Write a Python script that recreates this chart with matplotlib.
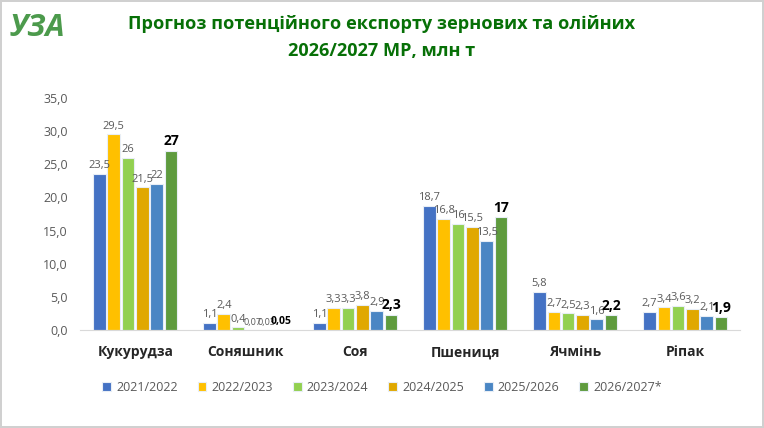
"""Прогноз потенційного експорту зернових та олійних 2026/2027 МР."""

import matplotlib.pyplot as plt
import numpy as np
from matplotlib.ticker import FuncFormatter

plt.rcParams["font.family"] = ["Open Sans", "DejaVu Sans"]

crops = ["Кукурудза", "Соняшник", "Соя", "Пшениця", "Ячмінь", "Ріпак"]
seasons = ["2021/2022", "2022/2023", "2023/2024", "2024/2025", "2025/2026", "2026/2027*"]

v_2122 = [23.5, 1.1, 1.1, 18.7, 5.8, 2.7]
v_2223 = [29.5, 2.4, 3.3, 16.8, 2.7, 3.4]
v_2324 = [26.0, 0.4, 3.3, 16.0, 2.5, 3.6]
v_2425 = [21.5, 0.07, 3.8, 15.5, 2.3, 3.2]
v_2526 = [22.0, 0.03, 2.9, 13.5, 1.6, 2.1]
v_2627 = [27.0, 0.05, 2.3, 17.0, 2.2, 1.9]
series = [v_2122, v_2223, v_2324, v_2425, v_2526, v_2627]

colors = ["#4472C4", "#FFC000", "#92D050", "#E0A800", "#4A86C4", "#5E9B3E"]


def fmt(v):
    s = f"{v:g}" if v >= 0.1 else f"{v:.2f}"
    return s.replace(".", ",")


fig = plt.figure(figsize=(7.64, 4.28), dpi=100)
fig.patch.set_edgecolor("#D0D0D0")
fig.patch.set_linewidth(1.5)
ax = fig.add_axes([0.105, 0.229, 0.864, 0.542])

x = np.arange(len(crops))
step = 0.13
width = 0.115
for i, (vals, color, label) in enumerate(zip(series, colors, seasons)):
    pos = x + (i - 2.5) * step
    bars = ax.bar(pos, vals, width, color=color, label=label,
                  edgecolor="#E8EEF6", linewidth=0.8)
    last = i == len(series) - 1
    texts = ax.bar_label(bars, labels=[fmt(v) for v in vals], padding=2,
                         fontsize=10 if last else 8,
                         fontweight="bold" if last else "normal",
                         color="black" if last else "#595959")
    for v, t in zip(vals, texts):
        if v < 0.1:
            t.set_fontsize(7.5 if last else 6.5)

ax.set_ylim(0, 35)
ax.set_xlim(-0.5, len(crops) - 0.5)
ax.set_yticks(np.arange(0, 36, 5))
ax.yaxis.set_major_formatter(FuncFormatter(lambda v, _: f"{v:.1f}".replace(".", ",")))
ax.tick_params(axis="y", length=0, labelsize=9, labelcolor="#595959", pad=9)
ax.set_xticks(x)
ax.set_xticklabels(crops, fontsize=10, fontweight="bold", color="#262626")
ax.tick_params(axis="x", length=0, pad=11)
for side in ["top", "right", "left"]:
    ax.spines[side].set_visible(False)
ax.spines["bottom"].set_color("#D9D9D9")

fig.text(0.5, 0.945, "Прогноз потенційного експорту зернових та олійних",
         ha="center", va="center", fontsize=13.1, fontweight="bold", color="#077007")
fig.text(0.5, 0.88, "2026/2027 МР, млн т",
         ha="center", va="center", fontsize=13.1, fontweight="bold", color="#077007")
fig.text(0.012, 0.935, "УЗА", ha="left", va="center", fontsize=22,
         fontweight="bold", style="italic", color="#4C9A4C")

fig.legend(loc="center", bbox_to_anchor=(0.5, 0.095), ncol=6, frameon=False,
           fontsize=9, handlelength=0.7, handleheight=0.7, columnspacing=1.6,
           handletextpad=0.4, labelcolor="#595959")

fig.savefig("out.png", dpi=100)
